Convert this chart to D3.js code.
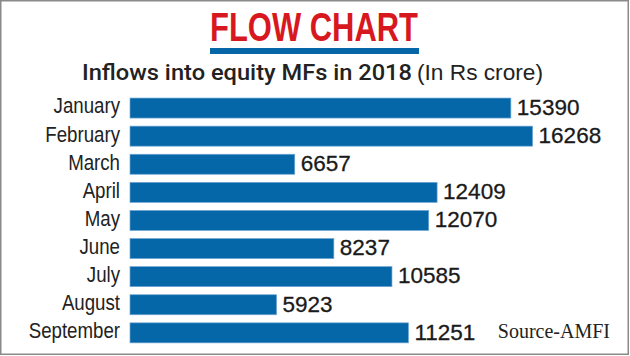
<!DOCTYPE html>
<html><head><meta charset="utf-8">
<script src="https://cdn.jsdelivr.net/npm/d3@7"></script>
<style>body{margin:0;background:#fff}</style>
</head><body>
<script>
const months = ["January","February","March","April","May","June","July","August","September"];
const inflows = [15390,16268,6657,12409,12070,8237,10585,5923,11251];
const titleText = "FLOW CHART";
const subtitleMain = "Inflows into equity MFs in 2018";
const subtitleUnit = "(In Rs crore)";
const sourceText = "Source-AMFI";

const W = 630, H = 356;
const svg = d3.select("body").append("svg").attr("width", W).attr("height", H);

svg.append("rect").attr("x",0.75).attr("y",0.75).attr("width",627.5).attr("height",353.5)
  .attr("fill","#fff").attr("stroke","#8a8a8a").attr("stroke-width",1.5);

svg.append("text").attr("x",210).attr("y",41).text(titleText)
  .attr("font-family","'Liberation Sans',Arial,sans-serif")
  .attr("font-weight","bold").attr("font-size",40).attr("fill","#d8181f")
  .attr("textLength",208).attr("lengthAdjust","spacingAndGlyphs");
svg.append("rect").attr("x",210).attr("y",48).attr("width",209).attr("height",6).attr("fill","#0766a8");

svg.append("text").attr("x",82).attr("y",80).text(subtitleMain)
  .attr("font-family","Roboto,'Liberation Sans',Arial,sans-serif").attr("font-weight",500)
  .attr("font-size",21.5).attr("fill","#222")
  .attr("textLength",330).attr("lengthAdjust","spacingAndGlyphs");
svg.append("text").attr("x",417).attr("y",80).text(subtitleUnit)
  .attr("font-family","'Liberation Sans',Arial,sans-serif")
  .attr("font-size",21.5).attr("fill","#222")
  .attr("textLength",126).attr("lengthAdjust","spacingAndGlyphs");

const x = d3.scaleLinear().domain([0, 16268]).range([130, 532.6]);
const y = d3.scaleBand().domain(months).range([94, 346.9]).paddingInner(0.288).paddingOuter(0.144);

const data = months.map((m,i)=>({m, v: inflows[i]}));

svg.selectAll("rect.bar").data(data).join("rect").attr("class","bar")
  .attr("x", x(0)).attr("y", d=>y(d.m))
  .attr("width", d=>x(d.v)-x(0)).attr("height", y.bandwidth())
  .attr("fill","#0566a8").attr("stroke","#6fa6d4").attr("stroke-width",0.7);

svg.selectAll("text.cat").data(data).join("text").attr("class","cat")
  .attr("transform", d=>`translate(120,${y(d.m)+y.bandwidth()/2}) scale(0.83,1)`)
  .attr("dy","0.24em")
  .attr("text-anchor","end").text(d=>d.m)
  .attr("font-family","'Liberation Sans',Arial,sans-serif")
  .attr("font-size",22.5).attr("fill","#222");

svg.selectAll("text.val").data(data).join("text").attr("class","val")
  .attr("x", d=>x(d.v)+6).attr("y", d=>y(d.m)+y.bandwidth()/2).attr("dy","0.3em")
  .text(d=>d.v)
  .attr("font-family","'Liberation Sans',Arial,sans-serif")
  .attr("font-size",22.5).attr("fill","#1a1a1a").attr("stroke","#1a1a1a").attr("stroke-width",0.3);

svg.append("text").attr("x",610).attr("y",338).attr("text-anchor","end").text(sourceText)
  .attr("font-family","'Liberation Serif','Times New Roman',serif")
  .attr("font-size",20).attr("fill","#222");
</script>
</body></html>
